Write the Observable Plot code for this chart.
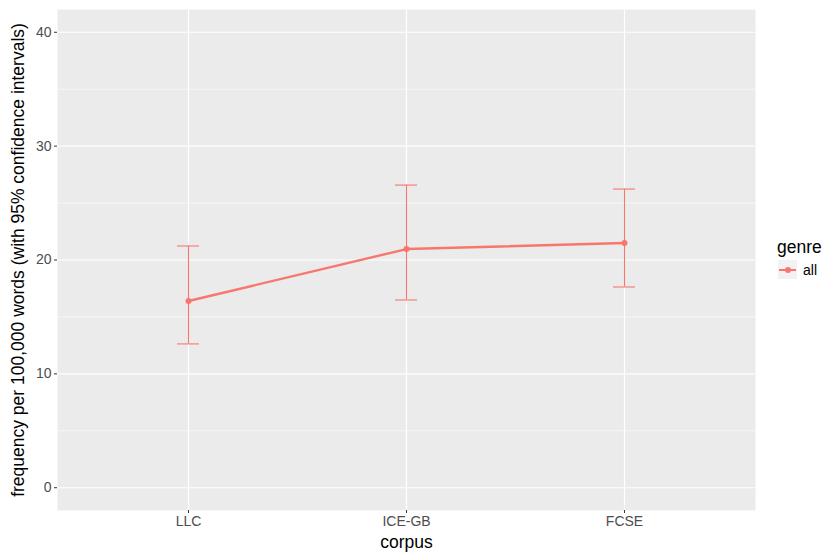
<!DOCTYPE html>
<html><head><meta charset="utf-8">
<script src="https://cdn.jsdelivr.net/npm/d3@7"></script>
<script src="https://cdn.jsdelivr.net/npm/@observablehq/plot@0.6"></script>
<style>
body{margin:0;background:#fff;font-family:"Liberation Sans",Arial,sans-serif;}
#wrap{position:relative;width:825px;height:553px;}
#legend{position:absolute;left:0;top:0;width:825px;height:553px;pointer-events:none;}
#legend .title{position:absolute;left:777px;top:237px;font-size:17.5px;color:#000;line-height:20px;}
#legend .key{position:absolute;left:778px;top:260px;width:19px;height:19px;background:#f2f2f2;}
#legend .kl{position:absolute;left:1px;right:1px;top:8.5px;height:2.2px;background:#F8766D;}
#legend .kd{position:absolute;left:6.5px;top:6.5px;width:6px;height:6px;border-radius:50%;background:#F8766D;}
#legend .lab{position:absolute;left:803px;top:262px;font-size:14px;color:#000;line-height:16px;}
</style></head><body>
<div id="wrap"><div id="chart"></div>
<div id="legend"><div class="title">genre</div><div class="key"><div class="kl"></div><div class="kd"></div></div><div class="lab">all</div></div>
</div>
<script>
const corpora = ["LLC", "ICE-GB", "FCSE"];
const meanFreq = [16.4, 20.96, 21.49];
const lowerCI = [12.63, 16.49, 17.63];
const upperCI = [21.23, 26.58, 26.23];
const genres = ["all", "all", "all"];
const yTicks = [0, 10, 20, 30, 40];
const yMinor = [5, 15, 25, 35];

const data = corpora.map((c, i) => ({corpus: c, mean: meanFreq[i], lo: lowerCI[i], hi: upperCI[i], genre: genres[i]}));
const col = "#F8766D";

const plot = Plot.plot({
  width: 760, height: 553,
  marginLeft: 57, marginRight: 5, marginTop: 9, marginBottom: 43,
  style: {fontFamily: '"Liberation Sans", Arial, sans-serif', background: "transparent"},
  x: {type: "band", domain: corpora, paddingInner: 0.9, paddingOuter: 0.55, align: 0.5},
  y: {domain: [-2, 42]},
  marks: [
    Plot.frame({fill: "#ebebeb", stroke: null}),
    Plot.gridY(yMinor, {stroke: "#fff", strokeOpacity: 1, strokeWidth: 0.6}),
    Plot.gridY(yTicks, {stroke: "#fff", strokeOpacity: 1, strokeWidth: 1.2}),
    Plot.gridX(corpora, {stroke: "#fff", strokeOpacity: 1, strokeWidth: 1.2}),
    Plot.axisY(yTicks, {tickSize: 3, tickPadding: 3, fontSize: 14, fill: "#4d4d4d", stroke: "#333", label: null}),
    Plot.axisY({ticks: [], tickSize: 0, label: "frequency per 100,000 words (with 95% confidence intervals)", labelAnchor: "center", labelArrow: "none", labelOffset: 46, fontSize: 17.5, fill: "#000"}),
    Plot.axisX(corpora, {tickSize: 3, tickPadding: 3, fontSize: 14, fill: "#4d4d4d", stroke: "#333", label: null}),
    Plot.axisX({ticks: [], tickSize: 0, label: "corpus", labelAnchor: "center", labelArrow: "none", labelOffset: 37, fontSize: 17.5, fill: "#000"}),
    Plot.ruleX(data, {x: "corpus", y1: "lo", y2: "hi", stroke: col, strokeWidth: 1.1}),
    Plot.tickY(data, {x: "corpus", y: "lo", stroke: col, strokeWidth: 1.1}),
    Plot.tickY(data, {x: "corpus", y: "hi", stroke: col, strokeWidth: 1.1}),
    Plot.line(data, {x: "corpus", y: "mean", z: "genre", stroke: col, strokeWidth: 2.4}),
    Plot.dot(data, {x: "corpus", y: "mean", fill: col, r: 3})
  ]
});
document.getElementById("chart").appendChild(plot);
</script>
</body></html>
